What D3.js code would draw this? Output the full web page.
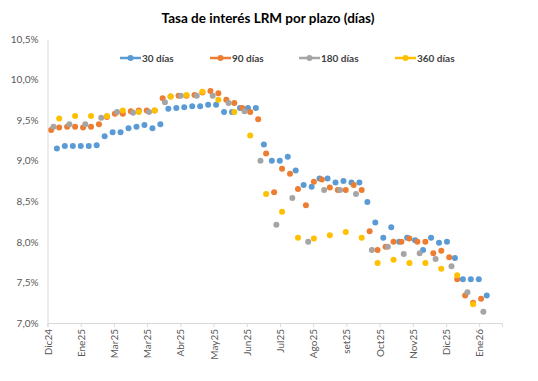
<!DOCTYPE html>
<html><head><meta charset="utf-8">
<script src="https://cdn.jsdelivr.net/npm/d3@7"></script>
<style>
html,body{margin:0;padding:0;background:#fff;}
svg{display:block;font-family:Lato,"Open Sans",sans-serif;}
</style></head>
<body>
<svg id="chart" width="538" height="381"></svg>
<script>
// ---- data ----
const seriesNames = ["30 días", "90 días", "180 días", "360 días"];
const seriesColors = ["#5B9BD5", "#ED7D31", "#A5A5A5", "#FFC000"];
// auction day within the week (days relative to the weekly grid)
const seriesDayOffset = [-2, 0, 2, 0];
const xTickLabels = ["Dic24","Ene25","Mar25","Mar25","Abr25","May25","Jun25","Jul25","Ago25","set25","Oct25","Nov25","Dic25","Ene26"];
const yTickValues = [7.0, 7.5, 8.0, 8.5, 9.0, 9.5, 10.0, 10.5];
const _ = null;
// weekly observations (%), week 0 .. 55
const rate30 = [_,9.15,9.18,9.18,9.18,9.18,9.19,9.30,9.35,9.35,9.40,9.42,9.44,9.40,9.45,9.64,9.65,9.66,9.67,9.67,9.69,9.69,9.60,9.60,9.65,9.65,9.65,9.20,9.00,9.00,9.05,8.88,8.70,8.68,8.78,8.78,8.73,8.75,8.73,8.73,8.49,8.24,8.05,8.18,8.00,8.05,8.02,7.90,8.05,7.99,8.00,7.80,7.54,7.54,7.54,7.34];
const rate90 = [9.38,9.41,9.42,9.42,9.41,9.42,9.45,9.54,9.58,9.58,9.61,9.62,9.62,9.62,9.77,9.79,9.80,9.80,9.81,9.84,9.86,9.83,9.75,9.71,9.65,9.60,9.51,9.09,8.61,8.90,8.84,8.65,8.45,8.74,8.77,8.67,8.64,8.64,8.70,8.64,8.13,7.90,7.94,8.00,8.00,8.04,8.00,8.00,7.86,7.89,7.81,7.54,7.34,7.25,7.30,_];
const rate180 = [9.42,_,9.45,_,9.45,_,9.53,_,9.60,_,9.59,_,9.60,_,9.72,_,9.80,_,9.80,_,9.80,_,9.71,_,9.61,_,9.00,_,8.21,_,8.54,_,8.00,_,8.64,_,8.64,_,8.59,_,7.90,_,7.94,_,7.85,_,7.86,_,7.79,_,7.70,_,7.38,_,7.14,_];
const rate360 = [_,9.52,_,9.55,_,9.55,_,9.55,_,9.62,_,9.60,_,9.62,_,9.79,_,9.81,_,9.85,_,9.75,_,9.60,_,9.31,_,8.59,_,8.37,_,8.05,_,8.04,_,8.08,_,8.12,_,8.05,_,7.74,_,7.78,_,7.74,_,7.74,_,7.67,_,7.59,_,7.23,_];
const allRates = [rate30, rate90, rate180, rate360];
// x axis extent and label spacing, in days from week 0
const xAxisStartDay = -3.25, xAxisEndDay = 396.4, xTickStepDays = 29.2;

// ---- layout ----
const svg = d3.select("#chart");
const plot = {left: 47.5, right: 502, top: 39, bottom: 323};
const x = d3.scaleLinear().domain([xAxisStartDay, xAxisEndDay]).range([plot.left, plot.right]);
const y = d3.scaleLinear().domain([7.0, 10.5]).range([plot.bottom, plot.top]);
const textCol = "#595959", axisCol = "#D9D9D9";

// title
svg.append("text").attr("x", 268).attr("y", 23).attr("text-anchor", "middle")
  .attr("font-size", 13.5).attr("font-weight", "bold").attr("fill", "#000")
  .text("Tasa de interés LRM por plazo (días)");

// y axis
const yAxis = d3.axisLeft(y).tickValues(yTickValues).tickSize(0).tickPadding(9)
  .tickFormat(d => d.toFixed(1).replace(".", ",") + "%");
const gy = svg.append("g").attr("transform", `translate(${plot.left},0)`).call(yAxis);
gy.select(".domain").attr("stroke", axisCol);
gy.selectAll("text").attr("fill", textCol).attr("font-size", 10).attr("font-family", "Lato, sans-serif");

// x axis
const tickDays = xTickLabels.map((l, k) => xAxisStartDay + k * xTickStepDays);
const xAxis = d3.axisBottom(x).tickValues(tickDays).tickSize(4)
  .tickFormat((d, k) => xTickLabels[k]);
const gx = svg.append("g").attr("transform", `translate(0,${plot.bottom})`).call(xAxis);
gx.select(".domain").attr("stroke", axisCol);
gx.selectAll(".tick line").attr("stroke", axisCol);
gx.selectAll("text").attr("fill", textCol).attr("font-size", 10).attr("font-family", "Lato, sans-serif")
  .attr("text-anchor", "end").attr("transform", "rotate(-90)")
  .attr("x", -6).attr("y", 0).attr("dy", "0.35em");

// points
allRates.forEach((arr, s) => {
  const pts = arr.map((v, i) => ({day: 7 * i + seriesDayOffset[s], v})).filter(d => d.v !== null);
  svg.append("g").selectAll("circle").data(pts).join("circle")
    .attr("cx", d => x(d.day)).attr("cy", d => y(d.v)).attr("r", 3)
    .attr("fill", seriesColors[s]);
});

// legend
const legendX = [120, 210, 299, 395];
const lg = svg.append("g");
seriesNames.forEach((n, s) => {
  const g = lg.append("g").attr("transform", `translate(${legendX[s]},58)`);
  g.append("line").attr("x1", 0).attr("x2", 21).attr("stroke", seriesColors[s]).attr("stroke-width", 2.5);
  g.append("circle").attr("cx", 10.5).attr("r", 3).attr("fill", seriesColors[s]);
  g.append("text").attr("x", 22).attr("dy", "0.35em").attr("font-size", 10).attr("font-weight", "bold")
    .attr("fill", "#404040").text(n);
});
</script>
</body></html>
